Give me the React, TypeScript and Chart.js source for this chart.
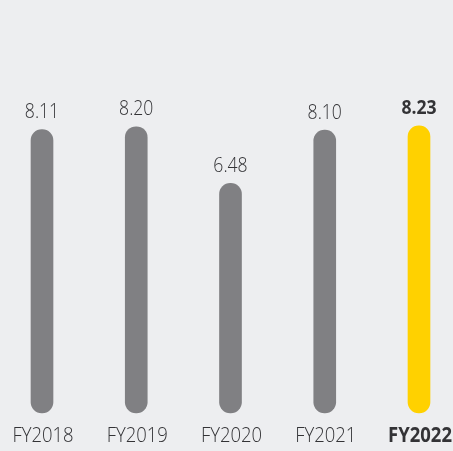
import React, { useEffect, useRef } from 'react';
import { Chart, registerables } from 'chart.js';

Chart.register(...registerables);

const categories: string[] = ['FY2018', 'FY2019', 'FY2020', 'FY2021', 'FY2022'];
const values: number[] = [8.11, 8.2, 6.48, 8.1, 8.23];
const valueLabels: string[] = ['8.11', '8.20', '6.48', '8.10', '8.23'];
const highlightIndex = 4;

const BG = '#EDEEF0';
const GRAY = '#808083';
const YELLOW = '#FFD100';
const TEXT = '#333336';
const FONT_FAMILY = '"Open Sans", "Noto Sans", sans-serif';
const TEXT_SCALE_X = 0.88;

const Y_MIN = -0.5;
const Y_MAX = 10;

const labelPlugin = {
  id: 'customLabels',
  afterDatasetsDraw(chart: any) {
    const ctx: CanvasRenderingContext2D = chart.ctx;
    const meta = chart.getDatasetMeta(0);
    ctx.save();
    ctx.fillStyle = TEXT;
    ctx.textAlign = 'center';
    ctx.textBaseline = 'middle';
    meta.data.forEach((el: any, i: number) => {
      const bold = i === highlightIndex;
      const weight = bold ? 'bold ' : '350 ';
      // value label
      ctx.font = `${weight}20px ${FONT_FAMILY}`;
      ctx.save();
      ctx.translate(el.x, el.y - 17);
      ctx.scale(TEXT_SCALE_X, 1);
      ctx.fillText(valueLabels[i], 0, 0);
      ctx.restore();
      // category label
      ctx.font = `${weight}21px ${FONT_FAMILY}`;
      ctx.save();
      ctx.translate(el.x + 1, 436);
      ctx.scale(TEXT_SCALE_X, 1);
      ctx.fillText(categories[i], 0, 0);
      ctx.restore();
    });
    ctx.restore();
  },
};

export default function App() {
  const canvasRef = useRef<HTMLCanvasElement | null>(null);

  useEffect(() => {
    document.body.style.margin = '0';
    document.body.style.background = BG;
    const canvas = canvasRef.current;
    if (!canvas) return;
    const chart = new Chart(canvas, {
      type: 'bar',
      data: {
        labels: categories,
        datasets: [
          {
            data: values,
            base: Y_MIN,
            backgroundColor: values.map((_, i) => (i === highlightIndex ? YELLOW : GRAY)),
            borderWidth: 0,
            borderRadius: 11,
            borderSkipped: false,
            barThickness: 22,
            clip: false as any,
          } as any,
        ],
      },
      options: {
        animation: false,
        responsive: true,
        maintainAspectRatio: false,
        layout: { padding: { left: 42, right: 34, top: 67.5, bottom: 38 } },
        plugins: {
          legend: { display: false },
          tooltip: { enabled: false },
        },
        scales: {
          x: { display: false, offset: false, grid: { display: false } },
          y: { display: false, min: Y_MIN, max: Y_MAX },
        },
      },
      plugins: [labelPlugin],
    });
    return () => chart.destroy();
  }, []);

  return (
    <div style={{ width: 453, height: 451, background: BG, position: 'relative' }}>
      <canvas ref={canvasRef} />
    </div>
  );
}
